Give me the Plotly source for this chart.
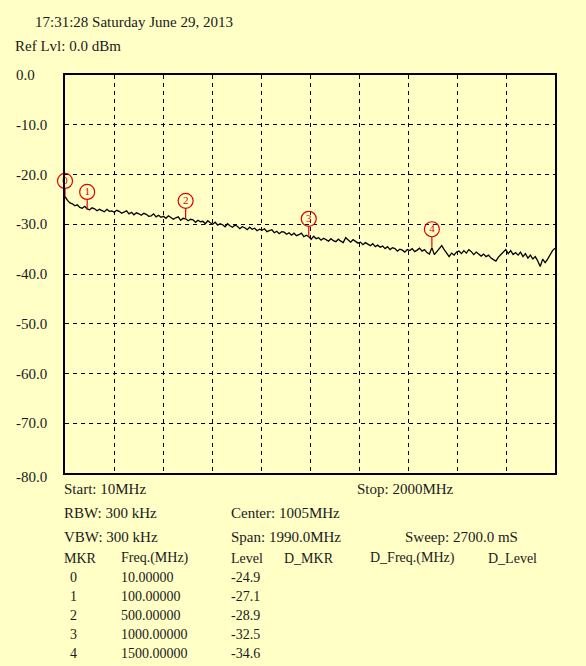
"""
Spectrum analyser screen: trace + markers + info table
"""

import plotly.graph_objects as go
import numpy as np

# ---- data ----
TIMESTAMP = "17:31:28 Saturday June 29, 2013"
REF_LEVEL = "Ref Lvl: 0.0 dBm"

START_MHZ = 10
STOP_MHZ = 2000

# trace levels (dBm), one every 10 MHz from 10 to 2000 MHz
trace_levels = [
    -24.4, -25.2, -25.7, -25.9, -26.3, -26.1, -26.6, -26.8, -26.4, -26.9,
    -27.1, -26.7, -26.9, -27.3, -27.0, -27.2, -27.5, -27.0, -27.4, -27.3,
    -27.6, -27.2, -27.4, -27.8, -27.5, -27.3, -27.9, -27.6, -28.1, -27.7,
    -27.9, -28.2, -27.8, -28.0, -28.4, -28.3, -27.9, -28.5, -28.2, -28.6,
    -28.4, -28.8, -28.3, -28.6, -29.0, -28.7, -28.5, -29.2, -28.8, -28.9,
    -29.3, -29.0, -29.1, -29.6, -29.2, -29.5, -29.4, -29.9, -29.3, -29.7,
    -30.0, -29.6, -30.2, -29.9, -30.1, -30.5, -29.9, -30.3, -30.6, -30.2,
    -30.4, -30.9, -30.5, -30.7, -31.1, -30.6, -31.0, -30.8, -31.3, -31.0,
    -31.2, -30.9, -31.5, -31.3, -31.1, -31.7, -31.4, -31.9, -31.5, -31.6,
    -32.0, -31.7, -32.2, -31.8, -32.3, -32.1, -31.8, -32.5, -32.2, -32.5,
    -33.0, -32.4, -32.9, -32.7, -33.2, -32.8, -33.1, -33.4, -32.9, -33.3,
    -33.5, -33.0, -33.4, -33.7, -32.7, -33.2, -33.6, -33.1, -33.5, -33.8,
    -33.6, -34.1, -33.7, -34.0, -34.3, -33.9, -34.5, -34.2, -34.6, -34.4,
    -34.9, -34.5, -35.1, -34.7, -34.9, -35.4, -35.0, -35.2, -35.6, -35.1,
    -35.3, -34.9, -35.5, -35.2, -34.8, -35.4, -35.1, -35.7, -36.0, -34.7,
    -36.1, -35.5, -34.8, -34.3, -35.1, -35.9, -36.5, -35.8, -36.2, -35.6,
    -35.4, -35.9, -35.3, -35.8, -35.1, -35.5, -36.1, -35.6, -36.0, -36.4,
    -36.0, -36.5, -36.2, -36.8, -37.1, -37.4, -36.6, -36.1, -35.5, -35.1,
    -35.9, -35.3, -36.1, -35.7, -36.2, -35.6, -36.5, -35.9, -36.8, -36.2,
    -37.0, -36.5, -37.4, -38.5, -37.0, -37.7, -37.0, -36.1, -35.3, -34.8,
]
trace_freqs = np.linspace(START_MHZ, STOP_MHZ, len(trace_levels))

# markers
mkr_ids = [0, 1, 2, 3, 4]
mkr_freqs = [10.0, 100.0, 500.0, 1000.0, 1500.0]
mkr_levels = [-24.9, -27.1, -28.9, -32.5, -34.6]

y_ticks = [0, -10, -20, -30, -40, -50, -60, -70, -80]

settings_left = ["Start: 10MHz", "RBW: 300 kHz", "VBW: 300 kHz"]
settings_mid = ["Center: 1005MHz", "Span: 1990.0MHz"]
stop_label = "Stop: 2000MHz"
sweep_label = "Sweep: 2700.0 mS"
table_header = ["MKR", "Freq.(MHz)", "Level", "D_MKR", "D_Freq.(MHz)", "D_Level"]

# ---- style ----
BG = "#FFFFC6"
RED = "#E00000"
TXT = "#1a1a1a"
FONT = "Liberation Serif"
W, H = 586, 666
L, R, T, B = 65, 555, 75, 473   # plot box in pixels


def px(x, y):
    """pixel position -> paper coords"""
    return (x - L) / (R - L), (B - y) / (B - T)


def label(fig, x, y, text, size=15):
    xp, yp = px(x, y)
    fig.add_annotation(
        x=xp, y=yp, xref="paper", yref="paper", text=text,
        showarrow=False, xanchor="left", yanchor="middle",
        font=dict(family=FONT, size=size, color=TXT)
    )


fig = go.Figure()

fig.add_trace(go.Scatter(
    x=trace_freqs, y=trace_levels, mode="lines",
    line=dict(color="black", width=1.3), hoverinfo="skip"
))

# marker stems (from level up to the circle)
stem_x, stem_y = [], []
for f, lv in zip(mkr_freqs, mkr_levels):
    stem_x += [f, f, None]
    stem_y += [lv, lv + 2.1, None]
fig.add_trace(go.Scatter(
    x=stem_x, y=stem_y, mode="lines",
    line=dict(color=RED, width=1.2), cliponaxis=False, hoverinfo="skip"
))

# marker circles with numbers
fig.add_trace(go.Scatter(
    x=mkr_freqs, y=[lv + 3.6 for lv in mkr_levels],
    mode="markers+text", text=[str(m) for m in mkr_ids],
    textposition="middle center",
    textfont=dict(family=FONT, size=11, color=RED),
    marker=dict(symbol="circle-open", size=15, color=RED, line=dict(width=1.2)),
    cliponaxis=False, hoverinfo="skip"
))

fig.update_xaxes(
    range=[START_MHZ, STOP_MHZ], tick0=START_MHZ, dtick=(STOP_MHZ - START_MHZ) / 10,
    showticklabels=False, ticks="", showgrid=True, gridcolor="black",
    gridwidth=1, griddash="4px,4px", zeroline=False,
    showline=True, linecolor="black", linewidth=2, mirror=True
)
fig.update_yaxes(
    range=[-80, 0], tickvals=y_ticks, showticklabels=False, ticks="",
    showgrid=True, gridcolor="black", gridwidth=1, griddash="4px,4px",
    zeroline=False, showline=True, linecolor="black", linewidth=2, mirror=True
)

# y labels, left aligned like the instrument
for v in y_ticks:
    fig.add_annotation(
        x=0, y=v, xref="paper", yref="y", text=f"{v:.1f}",
        showarrow=False, xanchor="left", yanchor="middle", xshift=-51,
        yshift=-4 if v == -80 else 0,
        font=dict(family=FONT, size=15, color=TXT)
    )

label(fig, 33, 22, TIMESTAMP)
label(fig, 13, 46, REF_LEVEL)

for i, s in enumerate(settings_left):
    label(fig, 62, 489 + i * 24, s)
for i, s in enumerate(settings_mid):
    label(fig, 229, 513 + i * 24, s)
label(fig, 355, 489, stop_label)
label(fig, 403, 537, sweep_label)

# marker table
col_x = [62, 119, 229, 282, 368, 486]
for cx, h in zip(col_x, table_header):
    label(fig, cx, 558, h, size=14)
for i, (m, f, lv) in enumerate(zip(mkr_ids, mkr_freqs, mkr_levels)):
    y = 577 + i * 19.2
    label(fig, 68, y, str(m), size=14)
    label(fig, 119, y, f"{f:.5f}", size=14)
    label(fig, 229, y, f"{lv:.1f}", size=14)

fig.update_layout(
    width=W, height=H,
    margin=dict(l=L, r=W - R, t=T, b=H - B),
    paper_bgcolor=BG, plot_bgcolor=BG,
    showlegend=False
)

# drop the default page margin so the figure sits at the window corner
fig.write_html(
    "out.html",
    config={"displayModeBar": False},
    post_script="document.body.style.margin='0';"
                "document.body.style.overflow='hidden';"
                "document.body.style.background='" + BG + "';"
)
